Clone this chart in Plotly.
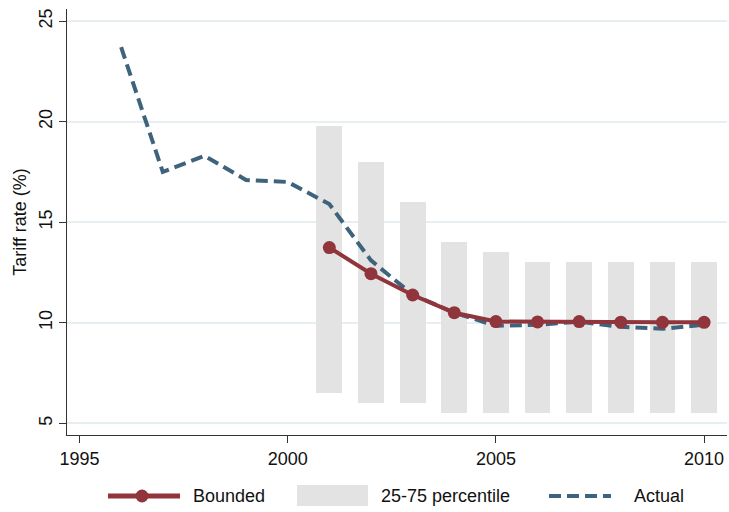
import plotly.graph_objects as go

# Tariff series
years_actual = [1996, 1997, 1998, 1999, 2000, 2001, 2002, 2003, 2004, 2005, 2006, 2007, 2008, 2009, 2010]
actual = [23.7, 17.5, 18.3, 17.1, 17.0, 15.9, 13.1, 11.4, 10.5, 9.85, 9.9, 10.05, 9.8, 9.7, 9.9]

years_bounded = [2001, 2002, 2003, 2004, 2005, 2006, 2007, 2008, 2009, 2010]
bounded = [13.74, 12.44, 11.38, 10.50, 10.06, 10.04, 10.06, 10.03, 10.02, 10.02]
p25 = [6.5, 6.0, 6.0, 5.5, 5.5, 5.5, 5.5, 5.5, 5.5, 5.5]
p75 = [19.8, 18.0, 16.0, 14.0, 13.5, 13.0, 13.0, 13.0, 13.0, 13.0]

x_ticks = [1995, 2000, 2005, 2010]
y_ticks = [5, 10, 15, 20, 25]

RED = "#90353B"
BLUE = "#3E647D"
GREY = "#E3E3E3"
GRID = "#E8EFF2"
FONT = "Liberation Sans, Arial, sans-serif"

W, H = 729, 512
ML, MR, MT, MB = 67, 2, 9, 77
PW, PH = W - ML - MR, H - MT - MB


def px(x):
    return (x - ML) / PW


def py(y):
    return (H - MB - y) / PH


fig = go.Figure()

fig.add_trace(go.Bar(
    x=years_bounded,
    y=[hi - lo for lo, hi in zip(p25, p75)],
    base=p25,
    width=0.62,
    marker=dict(color=GREY, line=dict(width=0)),
    showlegend=False,
    hoverinfo="skip",
))

fig.add_trace(go.Scatter(
    x=years_actual, y=actual, mode="lines",
    line=dict(color=BLUE, width=4, dash="12px,6px"),
    showlegend=False,
))

fig.add_trace(go.Scatter(
    x=years_bounded, y=bounded, mode="lines+markers",
    line=dict(color=RED, width=4),
    marker=dict(color=RED, size=13),
    showlegend=False,
))

# Legend drawn beneath the plot
ly = 496
shapes = [
    dict(type="line", xref="paper", yref="paper", x0=px(108), x1=px(180), y0=py(ly), y1=py(ly),
         line=dict(color=RED, width=5)),
    dict(type="circle", xref="paper", yref="paper", x0=px(142 - 6.5), x1=px(142 + 6.5),
         y0=py(ly + 6.5), y1=py(ly - 6.5), fillcolor=RED, line=dict(color=RED, width=0)),
    dict(type="rect", xref="paper", yref="paper", x0=px(297), x1=px(368), y0=py(506), y1=py(485),
         fillcolor=GREY, line=dict(width=0)),
    dict(type="line", xref="paper", yref="paper", x0=px(549), x1=px(611), y0=py(ly), y1=py(ly),
         line=dict(color=BLUE, width=4, dash="12px,6px")),
]
annotations = [
    dict(text=t, xref="paper", yref="paper", x=px(x0), y=py(ly), xanchor="left", yanchor="middle",
         showarrow=False, font=dict(family=FONT, size=18, color="#111111"))
    for t, x0 in [("Bounded", 191), ("25-75 percentile", 379), ("Actual", 632)]
]

fig.update_layout(
    width=W, height=H,
    margin=dict(l=ML, r=MR, t=MT, b=MB, autoexpand=False),
    paper_bgcolor="white", plot_bgcolor="white",
    font=dict(family=FONT, size=18, color="#111111"),
    shapes=shapes,
    annotations=annotations,
    bargap=0,
)

fig.update_xaxes(
    range=[1994.70, 2010.55],
    tickvals=x_ticks,
    ticks="outside", ticklen=7, tickwidth=1, tickcolor="#333333",
    showline=True, linecolor="#333333", linewidth=1,
    showgrid=False, zeroline=False,
    tickfont=dict(family=FONT, size=18, color="#111111"),
)

fig.update_yaxes(
    range=[4.42, 25.6],
    tickvals=y_ticks,
    tickangle=-90,
    ticks="outside", ticklen=7, tickwidth=1, tickcolor="#333333",
    showline=True, linecolor="#333333", linewidth=1,
    showgrid=True, gridcolor=GRID, gridwidth=1.5,
    zeroline=False,
    tickfont=dict(family=FONT, size=18, color="#111111"),
    title=dict(text="Tariff rate (%)", standoff=4, font=dict(family=FONT, size=18, color="#111111")),
)

fig.write_html("out.html")
